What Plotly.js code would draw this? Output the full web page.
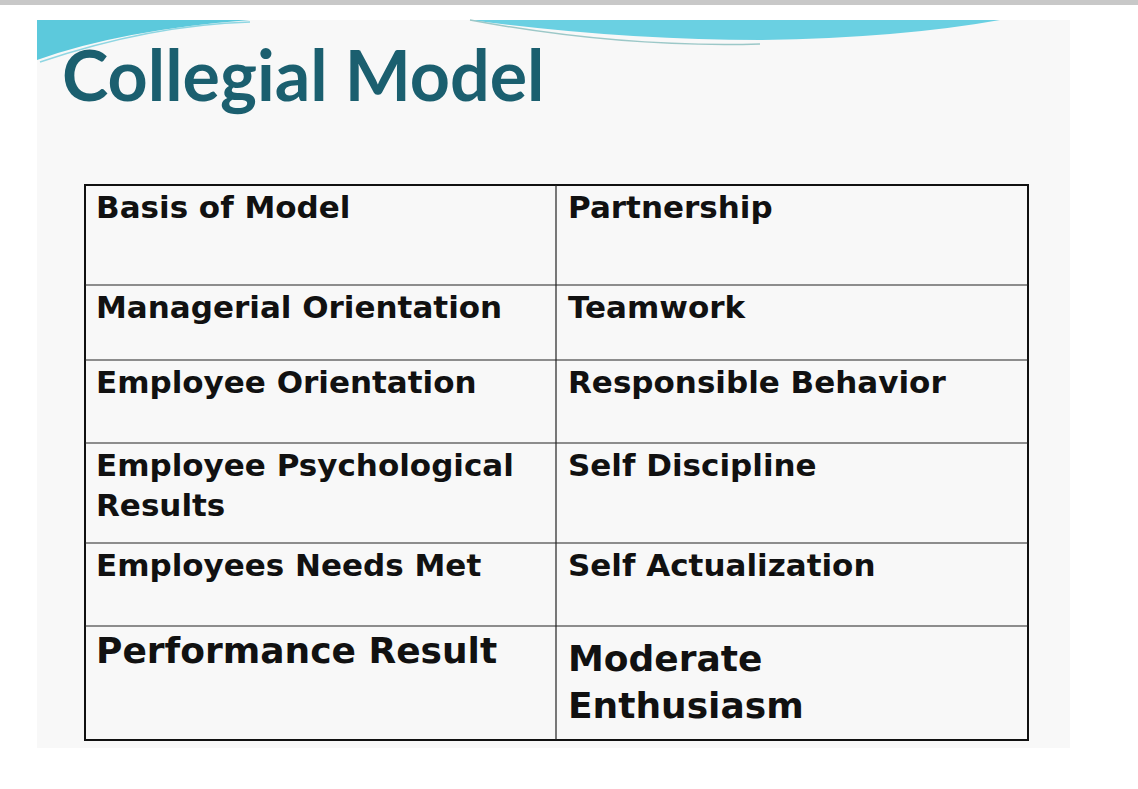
<!DOCTYPE html>
<html><head><script src="https://cdn.plot.ly/plotly-3.0.1.min.js"></script>
<style>body{margin:0;background:#fff}</style></head>
<body><div id="c" style="width:1138px;height:789px"></div>
<script>
const leftLabels = ["Basis of Model","Managerial Orientation","Employee Orientation","Employee Psychological<br>Results","Employees Needs Met","Performance Result"];
const rightLabels = ["Partnership","Teamwork","Responsible Behavior","Self Discipline","Self Actualization","Moderate<br>Enthusiasm"];
const rowEdges = [185,285,360,443,543,626,740];
const colEdges = [85,556,1028];
const fontSizes = [31,31,31,31,31,36];

const shapes = [
 {type:'rect',xref:'x',yref:'y',x0:0,x1:1138,y0:0,y1:5,fillcolor:'#c8c8c8',line:{width:0},layer:'below'},
 {type:'rect',xref:'x',yref:'y',x0:37,x1:1070,y0:20,y1:748,fillcolor:'#f8f8f8',line:{width:0},layer:'below'},
 {type:'path',xref:'x',yref:'y',path:'M37,20 L37,60 Q120,30 250,20 Z',fillcolor:'#5cc9dc',line:{width:0},layer:'below'},
 {type:'path',xref:'x',yref:'y',path:'M40,62 Q150,25 250,22',line:{color:'#8fd6e2',width:1.5},layer:'below'},
 {type:'path',xref:'x',yref:'y',path:'M470,20 Q620,40 760,40 Q900,38 1000,20 Z',fillcolor:'#6ad0e2',line:{width:0},layer:'below'},
 {type:'path',xref:'x',yref:'y',path:'M470,20 Q620,48 760,44',line:{color:'#9cc8c8',width:1.5},layer:'below'},
 {type:'rect',xref:'x',yref:'y',x0:colEdges[0],x1:colEdges[2],y0:rowEdges[0],y1:rowEdges[rowEdges.length-1],fillcolor:'rgba(0,0,0,0)',line:{color:'#111',width:2}}
];
for(let i=1;i<rowEdges.length-1;i++) shapes.push({type:'line',xref:'x',yref:'y',x0:colEdges[0],x1:colEdges[2],y0:rowEdges[i],y1:rowEdges[i],line:{color:'#222',width:1.2}});
shapes.push({type:'line',xref:'x',yref:'y',x0:colEdges[1],x1:colEdges[1],y0:rowEdges[0],y1:rowEdges[rowEdges.length-1],line:{color:'#222',width:1.2}});

const ann = [{x:60,y:74,xref:'x',yref:'y',text:'Collegial Model',showarrow:false,xanchor:'left',yanchor:'middle',font:{family:'Lato',size:70,color:'#1b5f6f',weight:700}}];
for(let i=0;i<leftLabels.length;i++){
  const y = rowEdges[i]+ (i==5?2:2);
  ann.push({x:colEdges[0]+9,y:y,xref:'x',yref:'y',text:leftLabels[i],showarrow:false,xanchor:'left',yanchor:'top',align:'left',font:{family:'DejaVu Sans',weight:700,size:fontSizes[i],color:'#111'}});
  ann.push({x:colEdges[1]+10,y:y+(i==5?8:0),xref:'x',yref:'y',text:rightLabels[i],showarrow:false,xanchor:'left',yanchor:'top',align:'left',font:{family:'DejaVu Sans',weight:700,size:fontSizes[i],color:'#111'}});
}
Plotly.newPlot('c',[],{
 width:1138,height:789,margin:{l:0,r:0,t:0,b:0},paper_bgcolor:'#fff',plot_bgcolor:'#fff',
 xaxis:{range:[0,1138],visible:false,fixedrange:true},
 yaxis:{range:[789,0],visible:false,fixedrange:true},
 shapes:shapes,annotations:ann,showlegend:false
},{staticPlot:true});
</script></body></html>
